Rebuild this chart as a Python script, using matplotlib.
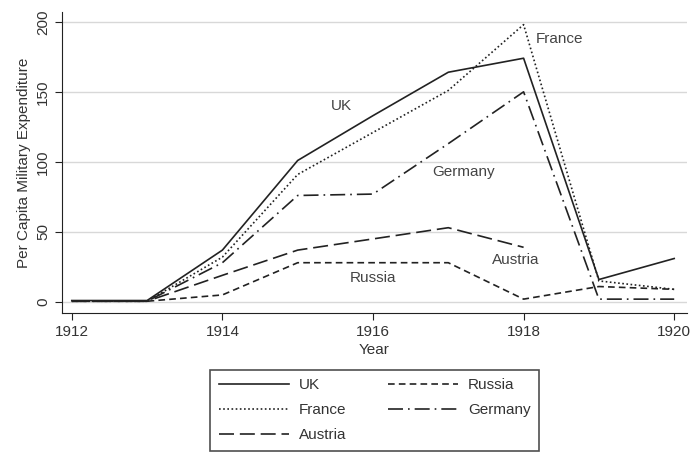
import numpy as np
import matplotlib
matplotlib.use('Agg')
import matplotlib.pyplot as plt

years = [1912, 1913, 1914, 1915, 1916, 1917, 1918, 1919, 1920]
uk = [1, 1, 37, 101, 133, 164, 174, 16, 31]
france = [0.5, 0.5, 32, 91, 121, 151, 198, 15, 9]
germany = [0.5, 0.5, 28, 76, 77, 113, 150, 2, 2]
austria = [0.5, 0.5, 19, 37, 45, 53, 39, np.nan, np.nan]
russia = [0.5, 0.5, 5, 28, 28, 28, 2, 11, 9]

series = [("UK", uk, '-'),
          ("France", france, (0, (1, 1.5))),
          ("Austria", austria, (0, (9, 3.5))),
          ("Russia", russia, (0, (4, 2.5))),
          ("Germany", germany, (0, (9, 3, 1, 3)))]

# label positions for in-plot annotations
annots = {"UK": (1915.58, 140), "France": (1918.48, 188),
          "Germany": (1917.2, 93), "Austria": (1917.9, 30),
          "Russia": (1916.0, 17)}

plt.rcParams['font.family'] = ['Liberation Sans', 'DejaVu Sans']
plt.rcParams['font.size'] = 11

fig = plt.figure(figsize=(6.93, 4.54), dpi=100)
ax = fig.add_axes([62 / 693, 1 - 313 / 454, 625 / 693, 301 / 454])

for name, vals, ls in series:
    ax.plot(years, vals, linestyle=ls, color='#222222', lw=1.2, label=name)

for name, (x, y) in annots.items():
    ax.text(x, y, name, ha='center', va='center', color='#444444', fontsize=11)

ax.set_xlim(1911.87, 1920.17)
ax.set_ylim(-7.9, 207)
ax.set_xticks([1912, 1914, 1916, 1918, 1920])
ax.set_yticks([0, 50, 100, 150, 200])
ax.set_yticklabels(['0', '50', '100', '150', '200'], rotation=90, va='center')
ax.grid(axis='y', color='#d8d8d8', lw=1)
ax.set_axisbelow(True)
for s in ['top', 'right']:
    ax.spines[s].set_visible(False)
ax.spines['left'].set_color('#222222')
ax.spines['bottom'].set_color('#222222')
ax.tick_params(direction='out', length=5, color='#222222', labelcolor='#333333')
ax.set_xlabel('Year', labelpad=3, color='#333333')
ax.set_ylabel('Per Capita Military Expenditure', labelpad=4, color='#333333')

leg = ax.legend(ncol=2, loc='upper center', bbox_to_anchor=(0.5, -0.189),
                borderaxespad=0, frameon=True, fancybox=False,
                edgecolor='#222222', handlelength=4.6, handletextpad=0.65,
                columnspacing=2.7, labelspacing=0.72, borderpad=0.55)
leg.get_frame().set_linewidth(1.2)
for t in leg.get_texts():
    t.set_color('#333333')

fig.savefig('out.png', dpi=100)
